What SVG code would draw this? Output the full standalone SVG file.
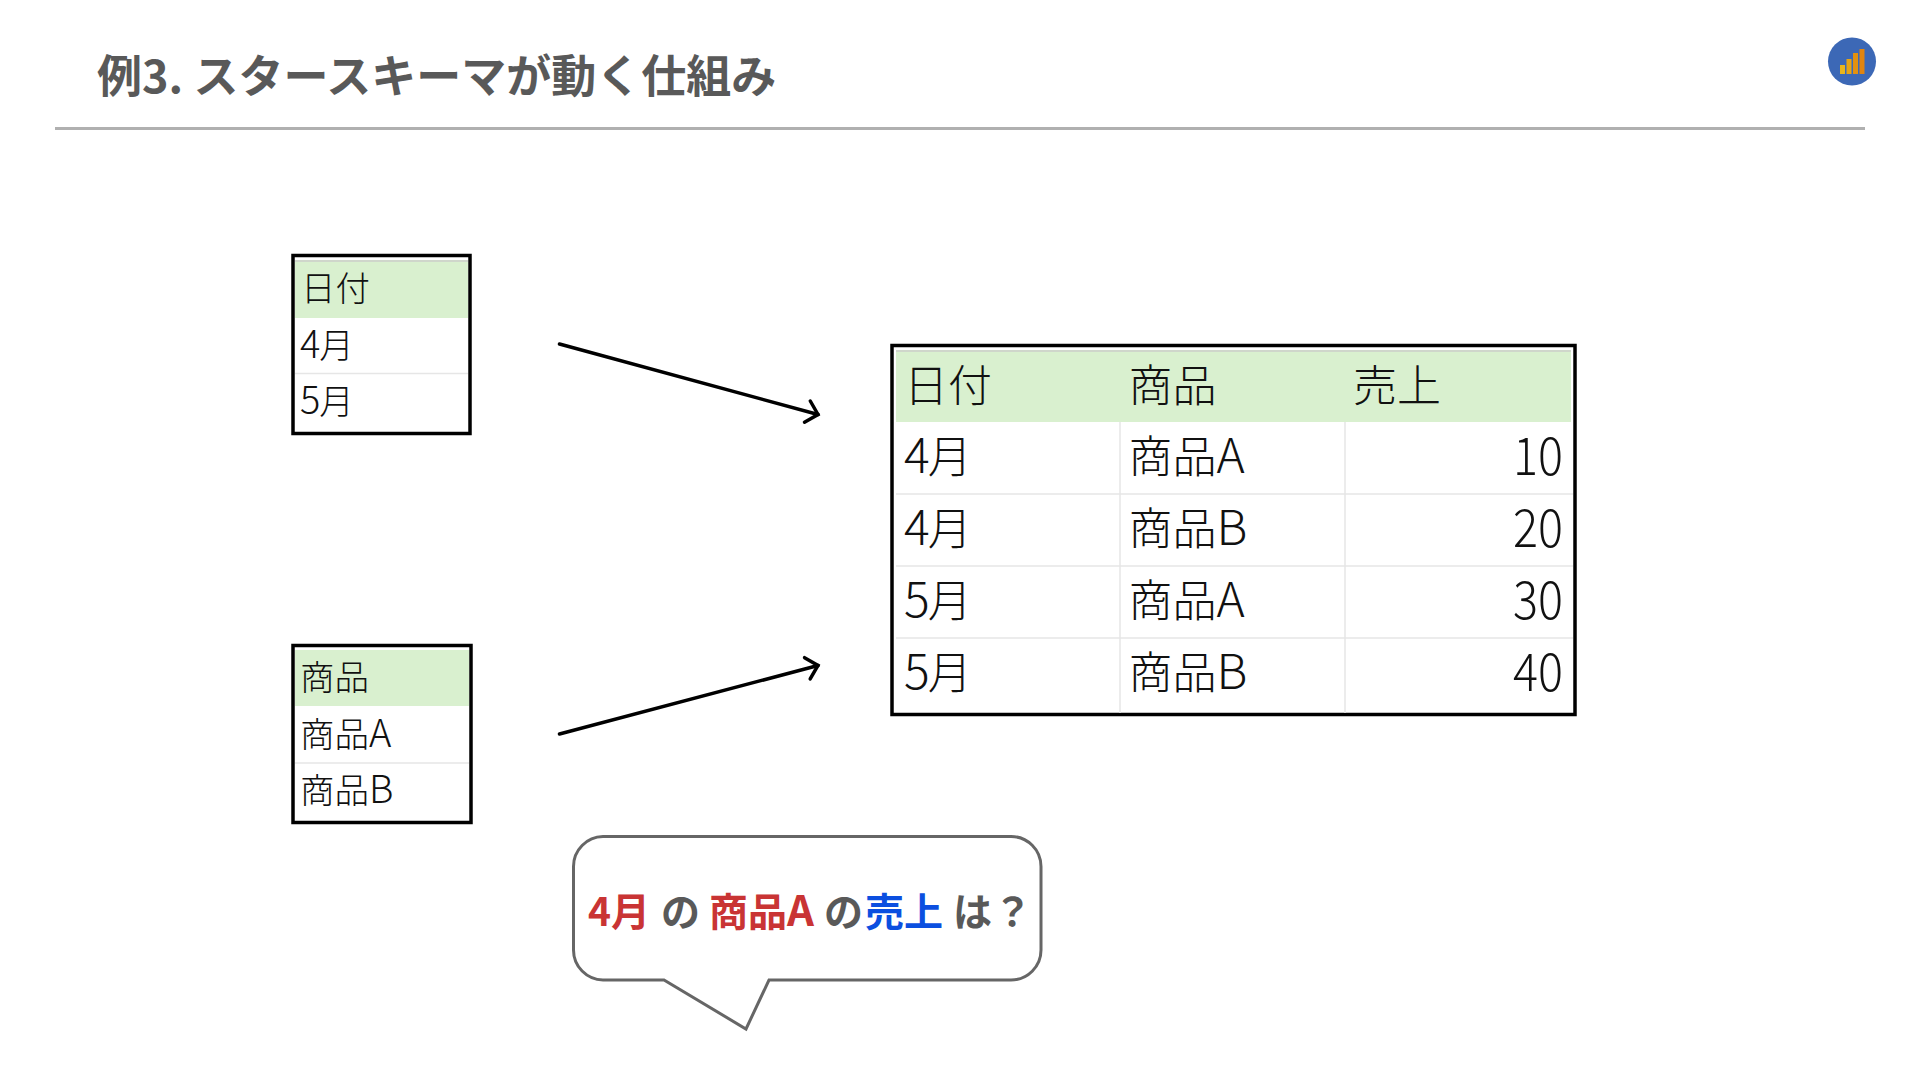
<svg xmlns="http://www.w3.org/2000/svg" width="1920" height="1080" viewBox="0 0 1920 1080">
<style>
text{font-family:"Noto Sans CJK JP","Noto Sans",sans-serif}
.title{font-size:45px;font-weight:700;fill:#595959}
.frame{fill:#fff;stroke:#000;stroke-width:3.5}
.head{fill:#d9f0cf}
.grid{stroke:#e6e6e6;stroke-width:1.5;fill:none}
.top{stroke:#bfc8ba;stroke-width:1.5}
.s{font-size:34.5px;font-weight:300;fill:#111}
.l{font-size:44px;font-weight:300;fill:#111}
.sd{font-size:38px}
.ld{font-size:48px}
.num{font-size:52px;font-weight:300;fill:#111}
.conn{stroke:#000;stroke-width:3.5;fill:none;stroke-linecap:round}
.bubble{fill:#fff;stroke:#666;stroke-width:3;stroke-linejoin:miter}
.q{font-size:39px;font-weight:700;fill:#595959}
.r{fill:#c93434}.b{fill:#0b4fe0}
</style>
<defs>
<marker id="arrow" markerUnits="userSpaceOnUse" markerWidth="30" markerHeight="30" refX="15" refY="10" orient="auto" overflow="visible">
<path d="M4 -1 L15 10 L4 21" fill="none" stroke="#000" stroke-width="3.5" stroke-linecap="round"/>
</marker>
</defs>
<rect width="1920" height="1080" fill="#fff"/>
<g id="header">
<text class="title" x="97" y="92.5">例3. スタースキーマが動く仕組み</text>
<rect x="55" y="127" width="1810" height="3" fill="#b0b0b0"/>
</g>
<g id="logo">
<circle cx="1852" cy="61.5" r="24" fill="#3c68b6"/>
<rect x="1840" y="65" width="5" height="9" fill="#e9b61c"/>
<rect x="1846.5" y="59" width="5" height="15" fill="#e6a514"/>
<rect x="1853" y="53" width="5" height="21" fill="#e29110"/>
<rect x="1859.5" y="49" width="5" height="25" fill="#e0840f"/>
</g>
<g id="connectors">
<line class="conn" x1="559.5" y1="344" x2="818" y2="414.5" marker-end="url(#arrow)"/>
<line class="conn" x1="559.5" y1="734" x2="818" y2="665.5" marker-end="url(#arrow)"/>
</g>
<g id="date-table">
<rect class="frame" x="293" y="255.5" width="177" height="178"/>
<rect class="head" x="295" y="262" width="173" height="56"/>
<line class="top" x1="295" y1="261" x2="468" y2="261"/>
<line class="grid" x1="295" y1="373.5" x2="468" y2="373.5"/>
<text class="s" x="301" y="301">日付</text>
<text class="s" x="300" y="358"><tspan class="sd">4</tspan><tspan dx="-1">月</tspan></text>
<text class="s" x="300" y="414"><tspan class="sd">5</tspan><tspan dx="-1">月</tspan></text>
</g>
<g id="product-table">
<rect class="frame" x="293" y="645.5" width="178" height="177"/>
<rect class="head" x="295" y="650" width="174" height="56"/>
<line class="grid" x1="295" y1="763" x2="469" y2="763"/>
<text class="s" x="300" y="690">商品</text>
<text class="s" x="300" y="747">商品<tspan class="sd">A</tspan></text>
<text class="s" x="300" y="803">商品<tspan class="sd">B</tspan></text>
</g>
<g id="fact-table">
<rect class="frame" x="892" y="345.5" width="683" height="369"/>
<rect class="head" x="896" y="352" width="675" height="70"/>
<line class="top" x1="896" y1="351" x2="1571" y2="351"/>
<path class="grid" d="M896 494H1573M896 566H1573M896 638H1573M1120 422V713M1345 422V713"/>
<text class="l" x="904" y="402">日付</text>
<text class="l" x="1128.5" y="402">商品</text>
<text class="l" x="1353" y="402">売上</text>
<text class="l" x="904" y="473"><tspan class="ld">4</tspan><tspan dx="-2">月</tspan></text><text class="l" x="1128.5" y="473">商品<tspan class="ld">A</tspan></text><text class="num" x="1513" y="475" textLength="50" lengthAdjust="spacingAndGlyphs">10</text>
<text class="l" x="904" y="545"><tspan class="ld">4</tspan><tspan dx="-2">月</tspan></text><text class="l" x="1128.5" y="545">商品<tspan class="ld">B</tspan></text><text class="num" x="1513" y="547" textLength="50" lengthAdjust="spacingAndGlyphs">20</text>
<text class="l" x="904" y="617"><tspan class="ld">5</tspan><tspan dx="-2">月</tspan></text><text class="l" x="1128.5" y="617">商品<tspan class="ld">A</tspan></text><text class="num" x="1513" y="619" textLength="50" lengthAdjust="spacingAndGlyphs">30</text>
<text class="l" x="904" y="689"><tspan class="ld">5</tspan><tspan dx="-2">月</tspan></text><text class="l" x="1128.5" y="689">商品<tspan class="ld">B</tspan></text><text class="num" x="1513" y="691" textLength="50" lengthAdjust="spacingAndGlyphs">40</text>
</g>
<g id="callout">
<path class="bubble" d="M603 836.5H1011A30 30 0 0 1 1041 866.5V950A30 30 0 0 1 1011 980H769L746 1029L664 980H603A30 30 0 0 1 573.5 950V866.5A30 30 0 0 1 603 836.5Z"/>
<text class="q" y="926"><tspan class="r" x="588">4月</tspan><tspan x="661">の</tspan><tspan class="r" x="709">商品<tspan font-size="42">A</tspan></tspan><tspan x="824">の</tspan><tspan class="b" x="865">売上</tspan><tspan x="953">は</tspan><tspan x="993">？</tspan></text>
</g>
</svg>
